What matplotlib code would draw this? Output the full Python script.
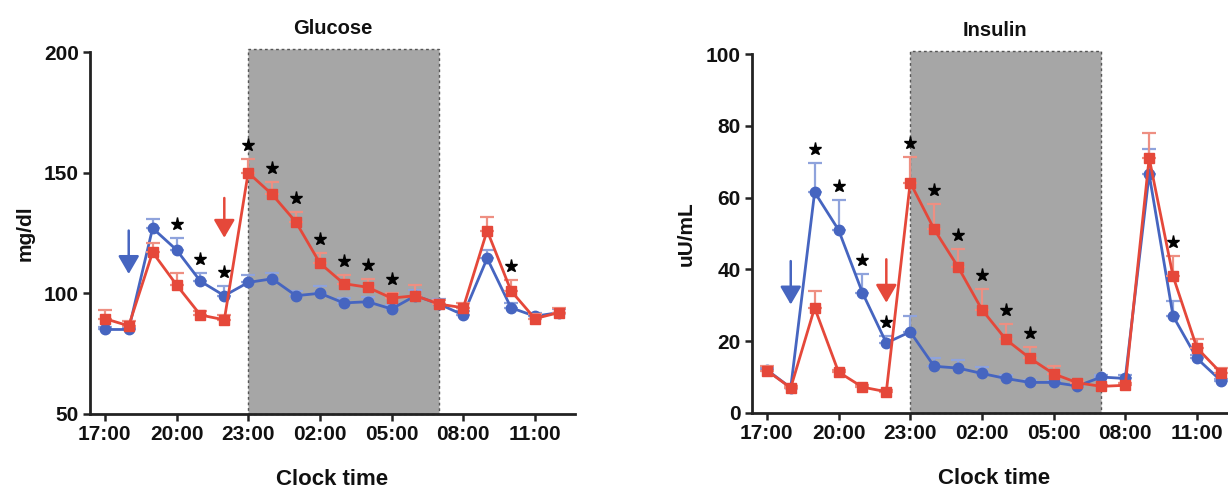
import matplotlib
matplotlib.use("Agg")
import matplotlib.pyplot as plt
import matplotlib.transforms as mtransforms
from matplotlib.patches import ArrowStyle
import numpy as np

plt.rcParams['font.family'] = ['Liberation Sans', 'DejaVu Sans']
plt.rcParams['font.weight'] = 'bold'

# hours since 17:00
hours = list(range(20))
tick_pos = [0, 3, 6, 9, 12, 15, 18]
tick_labels = ["17:00", "20:00", "23:00", "02:00", "05:00", "08:00", "11:00"]
night_start, night_end = 6, 14

# Glucose (mg/dl)
glu_blue = [85, 85, 127, 118, 105, 99, 104.5, 106, 99, 100, 96, 96.5, 93.5, 99, 95.5, 91, 114.5, 94, 90.5, 92]
glu_blue_err = [1, 1, 4, 5, 3.5, 4, 3.2, 2.3, 2, 3, 2, 2, 1.5, 2.5, 2, 1.5, 3.3, 2, 1.5, 1.5]
glu_red = [89.5, 86.5, 117, 103.5, 91, 89, 150, 141, 129.5, 112.5, 104, 102.5, 98, 99, 95.5, 94, 126, 101, 89.5, 92]
glu_red_err = [3.5, 2, 4, 5, 1.6, 2, 5.8, 5, 4.4, 4.3, 3.5, 3.4, 2, 4.3, 1.8, 2, 5.5, 4.5, 2, 1.7]
glu_stars = [3, 4, 5, 6, 7, 8, 9, 10, 11, 12, 17]
glu_arrow_blue = (1, 126, 108)
glu_arrow_red = (5, 139.5, 123)

# Insulin (uU/mL)
ins_blue = [12, 7, 61.5, 51, 33.5, 19.5, 22.6, 13, 12.5, 11, 9.6, 8.5, 8.5, 7.5, 10, 9.6, 66.5, 27, 15.2, 9]
ins_blue_err = [0.5, 0.5, 8.2, 8.3, 5.1, 2, 4.4, 2.3, 2.3, 1.9, 1.1, 0.6, 0.5, 0.5, 0.7, 1.1, 7, 4.2, 0.9, 0.5]
ins_red = [11.8, 7, 29.3, 11.4, 7.2, 5.9, 64.2, 51.2, 40.7, 28.8, 20.5, 15.3, 10.9, 8.4, 7.4, 7.7, 71, 38.1, 18.1, 11.2]
ins_red_err = [1.2, 0.5, 4.7, 0.5, 0.5, 0.5, 7, 7.1, 5.1, 5.6, 4.2, 3, 2.1, 0.5, 0.5, 0.5, 7, 5.6, 2.6, 1.4]
ins_stars = [2, 3, 4, 5, 6, 7, 8, 9, 10, 11, 17]
ins_arrow_blue = (1, 42.3, 30.2)
ins_arrow_red = (5, 42.8, 30.7)

BLUE = "#4665c0"
BLUE_LIGHT = "#8fa3dc"
RED = "#e5483a"
RED_LIGHT = "#ee8f82"
SHADE = "#a6a6a6"

fig = plt.figure(figsize=(12.28, 4.91), dpi=100)
ax1 = fig.add_axes([0.0733, 0.157, 0.395, 0.737])
ax2 = fig.add_axes([0.6124, 0.159, 0.395, 0.731])


def panel(ax, blue, blue_err, red, red_err, stars, arrows, ylim, yticks, title, ylabel):
    ax.set_xlim(-0.62, 19.68)
    ax.set_ylim(*ylim)
    ax.axvspan(night_start, night_end, ymin=0, ymax=1.008, facecolor=SHADE,
               edgecolor="#555555", linestyle=(0, (2, 2)), linewidth=1.0,
               clip_on=False, zorder=0)
    z = np.zeros(len(hours))
    ax.errorbar(hours, blue, yerr=[z, blue_err], fmt='none', ecolor=BLUE_LIGHT,
                elinewidth=1.6, capsize=5, capthick=1.6, zorder=2)
    ax.plot(hours, blue, color=BLUE, lw=2.0, marker='o', ms=7.5, zorder=3)
    ax.errorbar(hours, red, yerr=[z, red_err], fmt='none', ecolor=RED_LIGHT,
                elinewidth=1.6, capsize=5, capthick=1.6, zorder=4)
    ax.plot(hours, red, color=RED, lw=2.0, marker='s', ms=7.5, zorder=5)

    tops = [max(blue[i] + blue_err[i], red[i] + red_err[i]) for i in stars]
    off = mtransforms.offset_copy(ax.transData, fig=fig, x=0, y=14, units='dots')
    ax.plot(stars, tops, linestyle='none', marker='*', ms=9.5, color='black',
            transform=off, zorder=6, clip_on=False)

    for (x, y0, y1), col in zip(arrows, [BLUE, RED]):
        ax.annotate('', xy=(x, y1), xytext=(x, y0),
                    arrowprops=dict(arrowstyle=ArrowStyle('-|>', head_length=0.55, head_width=0.32),
                                    color=col, lw=1.8, mutation_scale=20, shrinkA=0, shrinkB=0),
                    zorder=6)

    ax.set_xticks(tick_pos)
    ax.set_xticklabels(tick_labels)
    ax.set_yticks(yticks)
    ax.spines['top'].set_visible(False)
    ax.spines['right'].set_visible(False)
    for s in ['left', 'bottom']:
        ax.spines[s].set_linewidth(2.0)
        ax.spines[s].set_color('#222222')
    ax.tick_params(axis='both', direction='out', length=5, width=1.8, colors='#222222',
                   labelsize=15, pad=3, labelcolor='#111111')
    for lab in ax.get_xticklabels() + ax.get_yticklabels():
        lab.set_fontweight('bold')
    ax.set_title(title, fontsize=14.5, fontweight='bold', pad=13, color='#111111')
    ax.set_xlabel("Clock time", fontsize=16, fontweight='bold', labelpad=18, color='#111111')
    ax.set_ylabel(ylabel, fontsize=15, fontweight='bold', labelpad=7, color='#111111')


panel(ax1, glu_blue, glu_blue_err, glu_red, glu_red_err, glu_stars,
      [glu_arrow_blue, glu_arrow_red], (50, 200), [50, 100, 150, 200], "Glucose", "mg/dl")
panel(ax2, ins_blue, ins_blue_err, ins_red, ins_red_err, ins_stars,
      [ins_arrow_blue, ins_arrow_red], (0, 100), [0, 20, 40, 60, 80, 100], "Insulin", "uU/mL")

fig.savefig("out.png", dpi=100)
